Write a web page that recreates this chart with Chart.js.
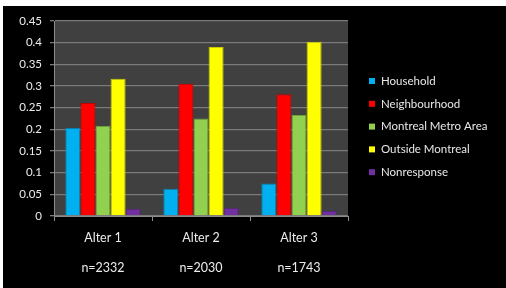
<!DOCTYPE html>
<html>
<head>
<meta charset="utf-8">
<script src="https://cdn.jsdelivr.net/npm/chart.js@4"></script>
<style>
  html, body { margin: 0; padding: 0; background: #fff; }
  #wrap { width: 506px; height: 288px; }
</style>
</head>
<body>
<div id="wrap"><canvas id="barChart" width="506" height="288"></canvas></div>
<script>
// categories with sample size shown under each label
const categories = ["Alter 1", "Alter 2", "Alter 3"];
const sampleSizes = ["n=2332", "n=2030", "n=1743"];

const seriesNames = ["Household", "Neighbourhood", "Montreal Metro Area", "Outside Montreal", "Nonresponse"];
const household = [0.203, 0.063, 0.075];
const neighbourhood = [0.261, 0.305, 0.281];
const montrealMetro = [0.208, 0.225, 0.233];
const outsideMontreal = [0.317, 0.390, 0.402];
const nonresponse = [0.017, 0.019, 0.012];

const yTicks = [0, 0.05, 0.1, 0.15, 0.2, 0.25, 0.3, 0.35, 0.4, 0.45];

const fills = ["#00b0f0", "#ff0000", "#92d050", "#ffff00", "#7030a0"];
const edges = ["#0a7fae", "#c00000", "#6f9f3c", "#c8c800", "#52237a"];

const FONT = "Lato, 'Liberation Sans', sans-serif";

// black slide background + grey plot area
const backdrop = {
  id: "backdrop",
  beforeDraw(chart) {
    const { ctx, chartArea: a } = chart;
    ctx.save();
    ctx.fillStyle = "#ffffff";
    ctx.fillRect(0, 0, chart.width, chart.height);
    ctx.fillStyle = "#000000";
    ctx.fillRect(3, 6, chart.width - 3, chart.height - 6);
    ctx.fillStyle = "#404040";
    ctx.fillRect(a.left, a.top, a.right - a.left, a.bottom - a.top);
    ctx.restore();
  }
};

// legend on the right, drawn from the datasets
const sideLegend = {
  id: "sideLegend",
  afterDraw(chart) {
    const ctx = chart.ctx;
    ctx.save();
    ctx.font = "11.5px " + FONT;
    ctx.textBaseline = "middle";
    chart.data.datasets.forEach((ds, i) => {
      const y = 81 + i * 22.8;
      ctx.fillStyle = ds.backgroundColor;
      ctx.fillRect(369, y - 3, 6, 6);
      ctx.fillStyle = "#e8e8e8";
      ctx.fillText(ds.label, 381, y);
    });
    ctx.restore();
  }
};

const seriesValues = [household, neighbourhood, montrealMetro, outsideMontreal, nonresponse];

const ctx = document.getElementById("barChart").getContext("2d");

let chartConfiguration = {
  type: "bar",
  data: {
    labels: categories.map((c, i) => [c, sampleSizes[i]]),
    datasets: seriesNames.map((name, i) => ({
      label: name,
      data: seriesValues[i],
      backgroundColor: fills[i],
      borderColor: edges[i],
      borderWidth: 1,
      barPercentage: 1.0,
      categoryPercentage: 0.77,
    })),
  },
  options: {
    responsive: false,
    animation: false,
    devicePixelRatio: 1,
    layout: { padding: { left: 0, top: 21, right: 158, bottom: 0 } },
    plugins: {
      legend: { display: false },
      tooltip: { enabled: false },
    },
    scales: {
      x: {
        afterFit(scale) { scale.height = 72; },
        border: { color: "#8c8c8c", width: 1 },
        grid: { drawOnChartArea: false, drawTicks: true, tickLength: 5, color: "#8c8c8c", offset: true },
        ticks: {
          color: "#ececec",
          font: { family: FONT, size: 12.5 },
          padding: 9,
          maxRotation: 0,
        },
        // two lines per category: name, then sample size
        afterTickToLabelConversion(scale) {
          scale.ticks.forEach((t, i) => { t.label = [categories[i], "", sampleSizes[i]]; });
        },
      },
      y: {
        min: 0,
        max: 0.45,
        afterFit(scale) { scale.width = 54; },
        afterBuildTicks(scale) { scale.ticks = yTicks.map(v => ({ value: v })); },
        border: { color: "#8c8c8c", width: 1 },
        grid: { color: "#7a7a7a", lineWidth: 1.3, tickLength: 4 },
        ticks: {
          color: "#ececec",
          font: { family: FONT, size: 11.5 },
          padding: 8,
          callback: v => String(Math.round(v * 100) / 100),
        },
      },
    },
  },
  plugins: [backdrop, sideLegend],
};

var chart = new Chart(ctx, chartConfiguration);
</script>
</body>
</html>
